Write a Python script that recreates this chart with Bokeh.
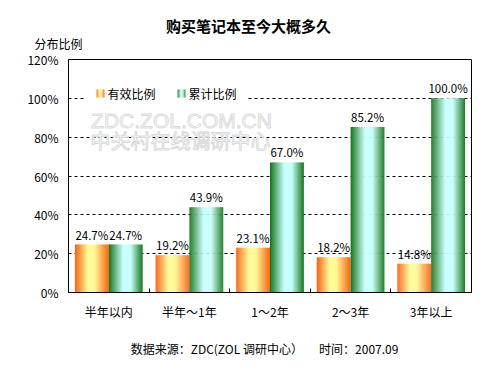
from bokeh.plotting import figure
from bokeh.models import (ColumnDataSource, Range1d, FixedTicker, Label)
from bokeh.core.properties import value
from bokeh.embed import file_html
from bokeh.resources import INLINE

# ---- data ----
categories = ["半年以内", "半年～1年", "1～2年", "2～3年", "3年以上"]
effective = [24.7, 19.2, 23.1, 18.2, 14.8]
cumulative = [24.7, 43.9, 67.0, 85.2, 100.0]
series_names = ["有效比例", "累计比例"]
y_ticks = [0, 20, 40, 60, 80, 100, 120]
y_tick_labels = ["0%", "20%", "40%", "60%", "80%", "100%", "120%"]

FONT = "Noto Sans CJK SC"
NBSP = "\u00a0"

W, H = 500, 375
FL, FR, FT, FB = 68, 471, 59, 292
XS = (FR - FL) / 5.0
YS = (FB - FT) / 120.0


def dx(px):
    return (px - FL) / XS


def dy(py):
    return (FB - py) / YS


ORANGE = [(0.0, (255, 96, 16)), (0.38, (255, 252, 150)), (0.58, (255, 248, 150)), (1.0, (255, 98, 16))]
GREEN = [(0.0, (20, 118, 24)), (0.42, (200, 255, 255)), (0.64, (200, 255, 255)), (1.0, (22, 120, 26))]


def grad(stops, t):
    for (t0, c0), (t1, c1) in zip(stops[:-1], stops[1:]):
        if t0 <= t <= t1:
            f = 0 if t1 == t0 else (t - t0) / (t1 - t0)
            c = [int(round(a + (b - a) * f)) for a, b in zip(c0, c1)]
            return "#%02x%02x%02x" % tuple(c)
    c = stops[-1][1]
    return "#%02x%02x%02x" % c


p = figure(width=W, height=H, output_backend="svg", toolbar_location=None,
           x_range=Range1d(0, 5), y_range=Range1d(0, 120),
           min_border_left=FL, min_border_right=W - FR,
           min_border_top=FT, min_border_bottom=H - FB)
p.background_fill_color = "white"
p.border_fill_color = "white"
p.outline_line_color = "black"
p.outline_line_width = 1
p.outline_line_alpha = 1

p.yaxis.ticker = FixedTicker(ticks=y_ticks)
p.yaxis.major_label_overrides = {t: l for t, l in zip(y_ticks, y_tick_labels)}
p.yaxis.major_tick_line_color = None
p.yaxis.major_tick_out = 0
p.yaxis.major_tick_in = 0
p.yaxis.minor_tick_line_color = None
p.yaxis.minor_tick_out = 0
p.yaxis.axis_line_color = "black"
p.yaxis.major_label_standoff = 10
p.yaxis.major_label_text_font = FONT
p.yaxis.major_label_text_font_size = "12px"
p.yaxis.major_label_text_color = "black"

centers = [i + 0.5 for i in range(len(categories))]
p.xaxis.ticker = FixedTicker(ticks=centers, minor_ticks=[i for i in range(1, len(categories))])
p.xaxis.major_label_overrides = {c: n for c, n in zip(centers, categories)}
p.xaxis.major_tick_line_color = None
p.xaxis.major_tick_out = 0
p.xaxis.major_tick_in = 0
p.xaxis.minor_tick_in = 4
p.xaxis.minor_tick_out = 0
p.xaxis.minor_tick_line_color = "black"
p.xaxis.axis_line_color = "black"
p.xaxis.major_label_standoff = 10
p.xaxis.major_label_text_font = FONT
p.xaxis.major_label_text_font_size = "12px"
p.xaxis.major_label_text_color = "black"

p.xgrid.visible = False
p.ygrid.ticker = FixedTicker(ticks=y_ticks[1:-1])
p.ygrid.grid_line_color = "black"
p.ygrid.grid_line_dash = "3 3"
p.ygrid.grid_line_width = 1

# watermark
wm_kw = dict(text_align="center", text_baseline="middle", text_color="#ffffff")
try:
    wm1 = Label(x=dx(181), y=dy(119.5), text="ZDC.ZOL.COM.CN", text_font="Liberation Sans",
                text_font_size="21px", text_outline_color="#dadada", **wm_kw)
    wm2 = Label(x=dx(180), y=dy(140), text="中关村在线调研中心", text_font=FONT,
                text_font_size="20px", text_outline_color="#dadada", **wm_kw)
except Exception:
    wm_kw["text_color"] = "#e2e2e2"
    wm1 = Label(x=dx(181), y=dy(119.5), text="ZDC.ZOL.COM.CN", text_font="Liberation Sans",
                text_font_size="21px", **wm_kw)
    wm2 = Label(x=dx(180), y=dy(140), text="中关村在线调研中心", text_font=FONT,
                text_font_size="20px", **wm_kw)
p.add_layout(wm1)
p.add_layout(wm2)

# bars as gradient strips
BW = 0.42
N = 34
left, right, top, color = [], [], [], []
for s, (vals, stops) in enumerate([(effective, ORANGE), (cumulative, GREEN)]):
    for i, v in enumerate(vals):
        l0 = centers[i] - BW if s == 0 else centers[i]
        sw = BW / N
        for k in range(N):
            left.append(l0 + sw * k)
            right.append(l0 + sw * (k + 1) + (sw * 0.4 if k < N - 1 else 0))
            top.append(v)
            color.append(grad(stops, (k + 0.5) / N))
src = ColumnDataSource(dict(left=left, right=right, top=top, color=color))
p.quad(left="left", right="right", bottom=0, top="top", source=src,
       fill_color="color", line_color=None)

# value labels
lx, ly, lt = [], [], []
for s, vals in enumerate([effective, cumulative]):
    for i, v in enumerate(vals):
        lx.append(centers[i] - BW / 2 if s == 0 else centers[i] + BW / 2)
        ly.append(v)
        lt.append("%.1f%%" % v)
lsrc = ColumnDataSource(dict(x=lx, y=ly, t=lt))
p.text(x="x", y="y", text="t", source=lsrc, text_align="center", text_baseline="bottom",
       y_offset=-2, text_font=value(FONT), text_font_size="11.5px", text_color="black")

# legend (gradient swatches)
p.quad(left=[dx(85)], right=[dx(246)], bottom=[dy(104)], top=[dy(82)],
       fill_color="white", line_color=None)
sl, sr, sb, st, sc = [], [], [], [], []
for (x0, stops) in [(96, ORANGE), (177, GREEN)]:
    n = 8
    for k in range(n):
        sl.append(dx(x0 + k))
        sr.append(dx(x0 + k + 1.3 if k < n - 1 else x0 + k + 1))
        sb.append(dy(97))
        st.append(dy(89))
        sc.append(grad(stops, (k + 0.5) / n))
p.quad(left=sl, right=sr, bottom=sb, top=st, fill_color=sc, line_color=None)
for x0, name in [(107, series_names[0]), (188, series_names[1])]:
    p.add_layout(Label(x=dx(x0), y=dy(93), text=name, text_align="left", text_baseline="middle",
                       text_font=FONT, text_font_size="12px", text_color="black"))

# texts outside the frame: labels placed in the side panels
p.add_layout(Label(x=dx(248), y=dy(25), text="购买笔记本至今大概多久", text_align="center",
                   text_baseline="middle", text_font=FONT, text_font_size="15px",
                   text_font_style="bold", text_color="black"), "above")
p.add_layout(Label(x=dx(34), y=dy(43), text="分布比例", text_align="left",
                   text_baseline="middle", text_font=FONT, text_font_size="12px",
                   text_color="black"), "above")
footer = "数据来源：ZDC(ZOL" + NBSP + "调研中心）" + NBSP * 6 + "时间：2007.09"
p.add_layout(Label(x=dx(264), y=dy(348), text=footer, text_align="center",
                   text_baseline="middle", text_font=FONT, text_font_size="12px",
                   text_color="black"), "below")

open("out.html", "w").write(file_html(p, INLINE))
